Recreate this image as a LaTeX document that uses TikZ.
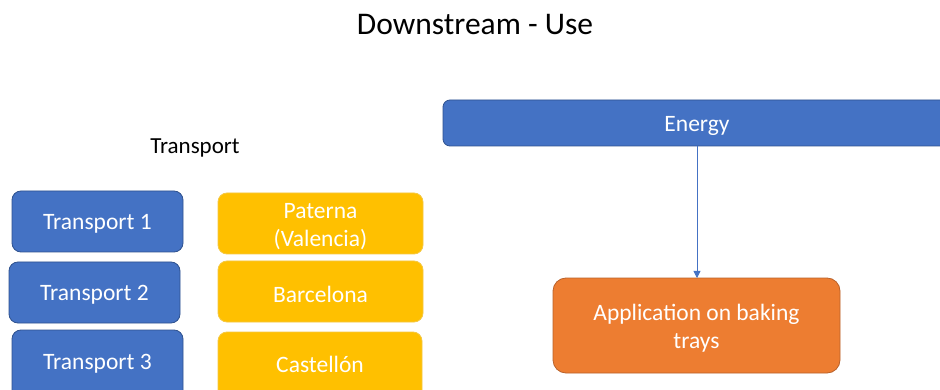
\documentclass[tikz,border=0pt]{standalone}
\usepackage{fontspec}
\setmainfont{Carlito}
\usetikzlibrary{arrows.meta}
\definecolor{accblue}{HTML}{4472C4}
\definecolor{accblueline}{HTML}{2F528F}
\definecolor{accgold}{HTML}{FFC000}
\definecolor{accgoldline}{HTML}{F5C843}
\definecolor{accorange}{HTML}{ED7D31}
\definecolor{accorangeline}{HTML}{B9612A}
\tikzset{
  x=1pt, y=-1pt,
  boxtext/.style={text=white, font=\fontsize{23.5}{28.5}\selectfont, align=center},
  bluebox/.style={fill=accblue, draw=accblueline, line width=0.8pt, rounded corners=9pt},
  goldbox/.style={fill=accgold, draw=accgoldline, line width=0.8pt, rounded corners=9pt},
  orangebox/.style={fill=accorange, draw=accorangeline, line width=0.8pt, rounded corners=13pt},
  link/.style={draw=accblue, line width=0.8pt, -{Triangle[length=7pt,width=7pt]}},
}
\begin{document}
\begin{tikzpicture}
\useasboundingbox (0,0) rectangle (940,390);
\fill[white] (0,0) rectangle (940,390);

% title and column heading
\node[font=\fontsize{31.5}{36}\selectfont] (title) at (475,24.5) {Downstream - Use};
\node[font=\fontsize{23}{28}\selectfont] (thead) at (195,147.5) {Transport};

% transport modes
\draw[bluebox] (12,191) rectangle (183,252);
\node[boxtext] (t1) at (97.5,224) {Transport 1};
\draw[bluebox] (9,262) rectangle (180,323);
\node[boxtext] (t2) at (94.5,295) {Transport 2};
\draw[bluebox] (12,330) rectangle (183,400);
\node[boxtext] (t3) at (97.5,363.5) {Transport 3};

% destinations
\draw[goldbox] (218,193) rectangle (423,254);
\node[boxtext] (d1) at (320.5,226.5) {Paterna\\(Valencia)};
\draw[goldbox] (218,261) rectangle (423,322);
\node[boxtext] (d2) at (320.5,294.5) {Barcelona};
\draw[goldbox] (218,332) rectangle (422,400);
\node[boxtext] (d3) at (320,364.5) {Castellón};

% energy bar and its use
\draw[bluebox, rounded corners=7pt] (443,100) rectangle (960,146);
\node[boxtext, inner sep=0pt] (energy) at (697,125.5) {Energy};
\coordinate (energybase) at (697,146);
\draw[orangebox] (553,278) rectangle (840,373);
\node[boxtext, inner sep=0pt] (app) at (696.5,328) {Application on baking\\trays};
\coordinate (apptop) at (697,278);

\draw[link] (energybase) -- (apptop);
\end{tikzpicture}
\end{document}
